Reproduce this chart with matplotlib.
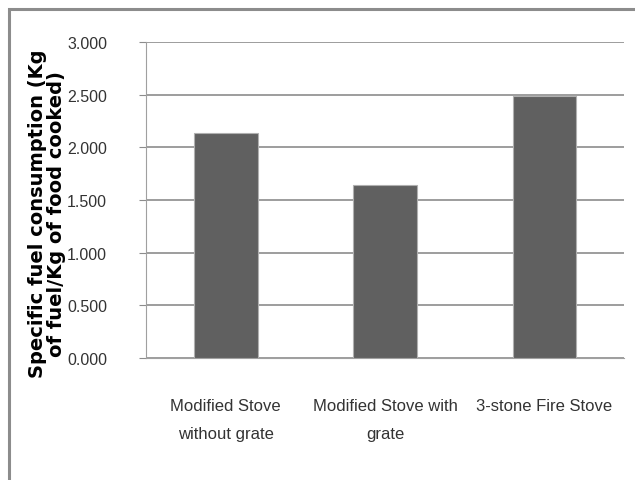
import matplotlib
matplotlib.use("Agg")
import matplotlib.pyplot as plt
from matplotlib.patches import Rectangle

categories = ["Modified Stove\nwithout grate", "Modified Stove with\ngrate", "3-stone Fire Stove"]
consumption = [2.14, 1.64, 2.49]
yticks = [0.0, 0.5, 1.0, 1.5, 2.0, 2.5, 3.0]

fig = plt.figure(figsize=(6.35, 4.81), dpi=100)
ax = fig.add_axes([0.230, 0.2536, 0.753, 0.657])

# outer chart border, only top and left edges fall inside the canvas
fig.patches.append(Rectangle((0.014, -0.1), 1.2, 0.88 + 0.1 + 0.1, transform=fig.transFigure,
                             fill=False, ec="#8c8c8c", lw=2.2, zorder=0))

x = range(len(categories))
ax.bar(x, consumption, width=0.4, color="#606060", edgecolor="#b0b0b0", lw=0.8, zorder=3)

ax.set_xlim(-0.5, 2.5)
ax.set_ylim(0, 3.0)
ax.set_yticks(yticks)
ax.set_yticklabels([f"{v:.3f}" for v in yticks])
ax.set_xticks(list(x))
ax.set_xticklabels(categories, linespacing=2.05)

narrow = ["Liberation Sans", "DejaVu Sans"]
for lab in ax.get_yticklabels():
    lab.set_family(narrow)
    lab.set_fontsize(11.5)
    lab.set_color("#333333")
for lab in ax.get_xticklabels():
    lab.set_family(narrow)
    lab.set_fontsize(12)
    lab.set_color("#333333")

ax.grid(axis="y", color="#8c8c8c", lw=1.2, zorder=0)
for s in ["top", "right"]:
    ax.spines[s].set_visible(False)
ax.spines["left"].set_color("#a0a0a0")
ax.spines["bottom"].set_color("#a0a0a0")
ax.tick_params(axis="y", length=5, color="#8c8c8c", pad=23)
ax.tick_params(axis="x", length=0, pad=29)

ax.set_ylabel("Specific fuel consumption (Kg\nof fuel/Kg of food cooked)",
              fontsize=14, fontweight="bold", linespacing=1.0)
ax.yaxis.set_label_coords(-0.168, 0.46)

fig.savefig("out.png", dpi=100)
